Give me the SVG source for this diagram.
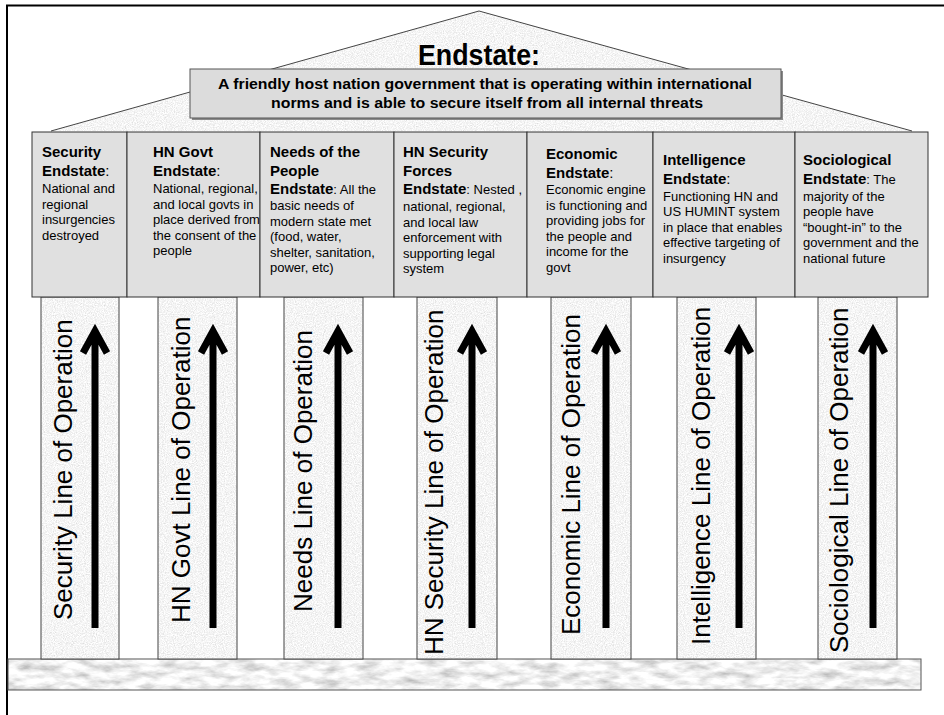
<svg xmlns="http://www.w3.org/2000/svg" width="944" height="715" viewBox="0 0 944 715">
<style>
.h{font-family:"Liberation Sans",Arial,sans-serif;font-weight:bold;font-size:15px;fill:#000}
.b{font-family:"Liberation Sans",Arial,sans-serif;font-size:13px;fill:#000}
.n{font-weight:normal}
.lo{font-family:"Liberation Sans",Arial,sans-serif;font-size:26px;fill:#000}
.cell{fill:#e0e0e0;stroke:#333;stroke-width:1}
.edge{fill:none;stroke:#444;stroke-width:1}
.arrow{fill:none;stroke:#000;stroke-width:7}
</style>
<defs>
<filter id="granite" x="0" y="0" width="100%" height="100%">
<feTurbulence type="fractalNoise" baseFrequency="0.9" numOctaves="3" seed="2" result="n"/>
<feColorMatrix in="n" type="matrix" values="0.5 0 0 0 0.66 0.5 0 0 0 0.66 0.5 0 0 0 0.66 0 0 0 0 1" result="g"/>
<feComposite in="g" in2="SourceGraphic" operator="in"/>
</filter>
<filter id="marble" x="0" y="0" width="100%" height="100%">
<feTurbulence type="fractalNoise" baseFrequency="0.05 0.14" numOctaves="4" seed="7" result="n"/>
<feColorMatrix in="n" type="matrix" values="0.9 0 0 0 0.42 0.9 0 0 0 0.42 0.9 0 0 0 0.42 0 0 0 0 1" result="g"/>
<feComposite in="g" in2="SourceGraphic" operator="in"/>
</filter>
</defs>
<rect width="944" height="715" fill="#fff"/>
<path d="M7 715 V5.5 H944" fill="none" stroke="#000" stroke-width="2"/>

<g id="roof">
<polygon points="51,131 479,11 912,131" fill="#fff" filter="url(#granite)"/>
<polyline points="51,131 479,11 912,131" class="edge"/>
<text x="479" y="65" text-anchor="middle" style="font-family:'Liberation Sans',Arial,sans-serif;font-weight:bold;font-size:30px" textLength="122" lengthAdjust="spacingAndGlyphs">Endstate:</text>
</g>

<g id="endstate-box">
<rect x="192" y="71" width="591" height="49" fill="#8a8a8a"/>
<rect x="190" y="69" width="591" height="49" fill="#dcdcdc" stroke="#555" stroke-width="1"/>
<text x="485" y="89" text-anchor="middle" class="h" style="font-size:14px" textLength="534" lengthAdjust="spacingAndGlyphs">A friendly host nation government that is operating within international</text>
<text x="487" y="108" text-anchor="middle" class="h" style="font-size:14px" textLength="432" lengthAdjust="spacingAndGlyphs">norms and is able to secure itself from all internal threats</text>
</g>

<g id="base">
<rect x="8" y="659" width="913" height="31" fill="#fff" filter="url(#marble)"/>
<rect x="8" y="659" width="913" height="31" fill="none" stroke="#555" stroke-width="1"/>
</g>

<g id="pillar-security">
<rect x="41" y="297" width="78" height="362" fill="#fff" filter="url(#granite)"/>
<rect x="41" y="297" width="78" height="362" class="edge"/>
<text class="lo" transform="translate(72,620) rotate(-90)">Security Line of Operation</text>
</g>
<g id="pillar-hngovt">
<rect x="158" y="297" width="79" height="362" fill="#fff" filter="url(#granite)"/>
<rect x="158" y="297" width="79" height="362" class="edge"/>
<text class="lo" transform="translate(190,623) rotate(-90)">HN Govt Line of Operation</text>
</g>
<g id="pillar-needs">
<rect x="284" y="297" width="79" height="362" fill="#fff" filter="url(#granite)"/>
<rect x="284" y="297" width="79" height="362" class="edge"/>
<text class="lo" transform="translate(312,612) rotate(-90)">Needs Line of Operation</text>
</g>
<g id="pillar-hnsecurity">
<rect x="417" y="297" width="80" height="362" fill="#fff" filter="url(#granite)"/>
<rect x="417" y="297" width="80" height="362" class="edge"/>
<text class="lo" transform="translate(443,655) rotate(-90)">HN Security Line of Operation</text>
</g>
<g id="pillar-economic">
<rect x="551" y="297" width="80" height="362" fill="#fff" filter="url(#granite)"/>
<rect x="551" y="297" width="80" height="362" class="edge"/>
<text class="lo" transform="translate(580,635) rotate(-90)">Economic Line of Operation</text>
</g>
<g id="pillar-intelligence">
<rect x="677" y="297" width="79" height="362" fill="#fff" filter="url(#granite)"/>
<rect x="677" y="297" width="79" height="362" class="edge"/>
<text class="lo" transform="translate(710,645) rotate(-90)">Intelligence Line of Operation</text>
</g>
<g id="pillar-sociological">
<rect x="818" y="297" width="79" height="362" fill="#fff" filter="url(#granite)"/>
<rect x="818" y="297" width="79" height="362" class="edge"/>
<text class="lo" transform="translate(848,653) rotate(-90)">Sociological Line of Operation</text>
</g>

<g id="cap-security">
<rect x="32" y="132" width="95" height="165" class="cell"/>
<text x="42" y="157" class="h">Security</text>
<text x="42" y="176" class="h">Endstate<tspan class="n">:</tspan></text>
<text class="b"><tspan x="42" y="193">National and</tspan><tspan x="42" y="208.5">regional</tspan><tspan x="42" y="224">insurgencies</tspan><tspan x="42" y="239.5">destroyed</tspan></text>
</g>
<g id="cap-hngovt">
<rect x="127" y="132" width="133" height="165" class="cell"/>
<text x="153" y="157" class="h">HN Govt</text>
<text x="153" y="176" class="h">Endstate<tspan class="n">:</tspan></text>
<text class="b"><tspan x="153" y="193">National, regional,</tspan><tspan x="153" y="208.5">and local govts in</tspan><tspan x="153" y="224">place derived from</tspan><tspan x="153" y="239.5">the consent of the</tspan><tspan x="153" y="255">people</tspan></text>
</g>
<g id="cap-needs">
<rect x="260" y="132" width="134" height="165" class="cell"/>
<text x="270" y="157" class="h">Needs of the</text>
<text x="270" y="175.5" class="h">People</text>
<text x="270" y="194" class="h">Endstate<tspan class="n" style="font-size:13px">: All the</tspan></text>
<text class="b"><tspan x="270" y="210">basic needs of</tspan><tspan x="270" y="225.5">modern state met</tspan><tspan x="270" y="241">(food, water,</tspan><tspan x="270" y="256.5">shelter, sanitation,</tspan><tspan x="270" y="272">power, etc)</tspan></text>
</g>
<g id="cap-hnsecurity">
<rect x="394" y="132" width="133" height="165" class="cell"/>
<text x="403" y="157" class="h">HN Security</text>
<text x="403" y="175.5" class="h">Forces</text>
<text x="403" y="194" class="h">Endstate<tspan class="n" style="font-size:13px">: Nested ,</tspan></text>
<text class="b"><tspan x="403" y="211">national, regional,</tspan><tspan x="403" y="226.5">and local law</tspan><tspan x="403" y="242">enforcement with</tspan><tspan x="403" y="257.5">supporting legal</tspan><tspan x="403" y="273">system</tspan></text>
</g>
<g id="cap-economic">
<rect x="527" y="132" width="126" height="165" class="cell"/>
<text x="546" y="159" class="h">Economic</text>
<text x="546" y="177.5" class="h">Endstate<tspan class="n">:</tspan></text>
<text class="b"><tspan x="546" y="194">Economic engine</tspan><tspan x="546" y="209.5">is functioning and</tspan><tspan x="546" y="225">providing jobs for</tspan><tspan x="546" y="240.5">the people and</tspan><tspan x="546" y="256">income for the</tspan><tspan x="546" y="271.5">govt</tspan></text>
</g>
<g id="cap-intelligence">
<rect x="653" y="132" width="142" height="165" class="cell"/>
<text x="663" y="165" class="h">Intelligence</text>
<text x="663" y="184" class="h">Endstate<tspan class="n">:</tspan></text>
<text class="b"><tspan x="663" y="200.5">Functioning HN and</tspan><tspan x="663" y="216">US HUMINT system</tspan><tspan x="663" y="231.5">in place that enables</tspan><tspan x="663" y="247">effective targeting of</tspan><tspan x="663" y="262.5">insurgency</tspan></text>
</g>
<g id="cap-sociological">
<rect x="795" y="132" width="133" height="165" class="cell"/>
<text x="803" y="165" class="h">Sociological</text>
<text x="803" y="184" class="h">Endstate<tspan class="n" style="font-size:13px">: The</tspan></text>
<text class="b"><tspan x="803" y="200.5">majority of the</tspan><tspan x="803" y="216">people have</tspan><tspan x="803" y="231.5">“bought-in” to the</tspan><tspan x="803" y="247">government and the</tspan><tspan x="803" y="262.5">national future</tspan></text>
</g>

<g id="connectors">
<path class="arrow" d="M95 628V333M83 353L95 331L107 353"/>
<path class="arrow" d="M213 628V333M201 353L213 331L225 353"/>
<path class="arrow" d="M338 628V333M326 353L338 331L350 353"/>
<path class="arrow" d="M472 628V333M460 353L472 331L484 353"/>
<path class="arrow" d="M606 628V333M594 353L606 331L618 353"/>
<path class="arrow" d="M739 628V333M727 353L739 331L751 353"/>
<path class="arrow" d="M873 628V333M861 353L873 331L885 353"/>
</g>
</svg>
